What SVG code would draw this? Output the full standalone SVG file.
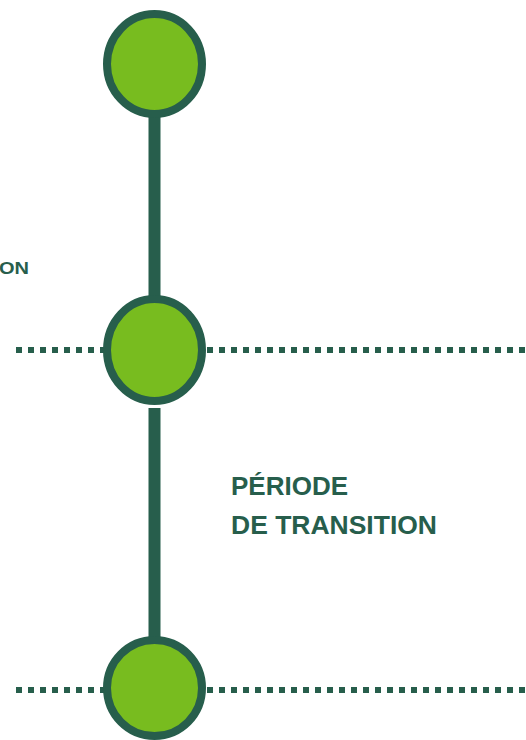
<svg xmlns="http://www.w3.org/2000/svg" width="526" height="740" viewBox="0 0 526 740">
<style>
.dot{stroke:#275e4c;stroke-width:6;stroke-dasharray:6 6;fill:none}
.stem{stroke:#275e4c;stroke-width:12;fill:none}
.node{fill:#78bc1f;stroke:#275e4c;stroke-width:8}
.lbl{font-family:"Liberation Sans",Arial,sans-serif;font-weight:bold;fill:#275e4c}
</style>
<rect width="526" height="740" fill="#ffffff"/>
<g id="connectors">
<line class="dot" x1="16" y1="350" x2="104" y2="350"/>
<line class="dot" x1="207" y1="350" x2="526" y2="350"/>
<line class="dot" x1="16" y1="690" x2="104" y2="690"/>
<line class="dot" x1="207" y1="690" x2="526" y2="690"/>
<line class="stem" x1="154.5" y1="115" x2="154.5" y2="298"/>
<line class="stem" x1="154.5" y1="408" x2="154.5" y2="640"/>
</g>
<g id="node-top"><ellipse class="node" cx="154.5" cy="64" rx="47.5" ry="50"/></g>
<g id="node-mid"><ellipse class="node" cx="154.5" cy="350" rx="47.5" ry="51"/></g>
<g id="node-bottom"><ellipse class="node" cx="154.5" cy="688" rx="47.5" ry="48"/></g>
<g id="label-left"><text class="lbl" x="29" y="274" font-size="17" text-anchor="end" textLength="30" lengthAdjust="spacingAndGlyphs">ON</text></g>
<g id="label-transition">
<text class="lbl" x="231" y="495" font-size="26">PÉRIODE</text>
<text class="lbl" x="231" y="534" font-size="26" textLength="206" lengthAdjust="spacingAndGlyphs">DE TRANSITION</text>
</g>
</svg>
